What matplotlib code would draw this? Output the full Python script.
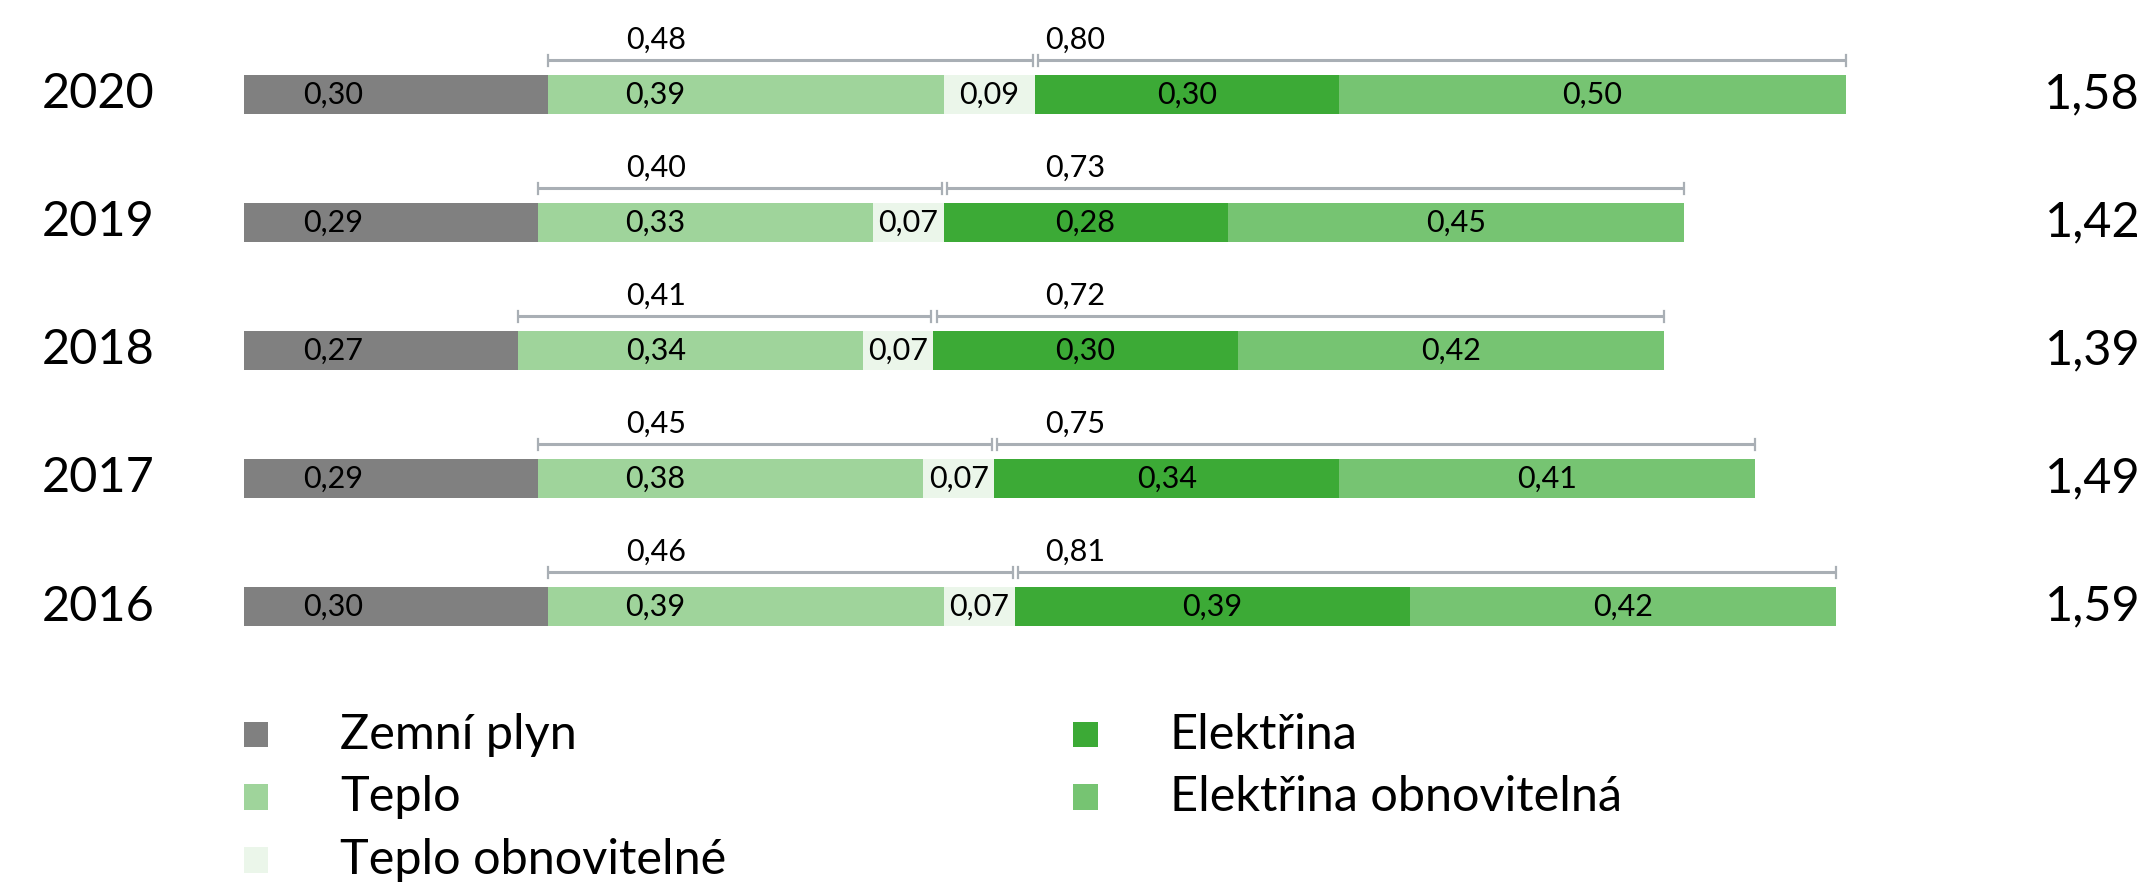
import matplotlib.pyplot as plt
from matplotlib.patches import Rectangle

plt.rcParams['font.family'] = ['Lato', 'DejaVu Sans']

years = ['2020', '2019', '2018', '2017', '2016']
series = ['Zemní plyn', 'Teplo', 'Teplo obnovitelné', 'Elektřina', 'Elektřina obnovitelná']
zemni_plyn = [0.30, 0.29, 0.27, 0.29, 0.30]
teplo = [0.39, 0.33, 0.34, 0.38, 0.39]
teplo_obn = [0.09, 0.07, 0.07, 0.07, 0.07]
elektrina = [0.30, 0.28, 0.30, 0.34, 0.39]
elektrina_obn = [0.50, 0.45, 0.42, 0.41, 0.42]
teplo_sum = [0.48, 0.40, 0.41, 0.45, 0.46]
elektrina_sum = [0.80, 0.73, 0.72, 0.75, 0.81]
totals = [1.58, 1.42, 1.39, 1.49, 1.59]

colors = ['#808080', '#9fd49b', '#ebf6ea', '#3caa36', '#76c472']
bracket_color = '#a9afb5'


def fmt(v):
    return ('%.2f' % v).replace('.', ',')


fig = plt.figure(figsize=(21.51, 8.83), dpi=100)
ax = fig.add_axes([0, 0, 1, 1])
ax.set_xlim(-0.2406, 1.8807)
ax.set_ylim(6.16, -0.738)
ax.axis('off')

bh = 0.305
lab_fs = 22
big_fs = 35
gray_lab_x = 0.088
teplo_lab_x = 0.406
el_lab_x = 0.82

data = [zemni_plyn, teplo, teplo_obn, elektrina, elektrina_obn]
for i, yr in enumerate(years):
    left = 0.0
    edges = []
    for k, vals in enumerate(data):
        v = vals[i]
        ax.barh(i, v, left=left, height=bh, color=colors[k], linewidth=0)
        if k == 0:
            tx = gray_lab_x
        elif k == 1:
            tx = teplo_lab_x
        else:
            tx = left + v / 2
        ax.text(tx, i, fmt(v), ha='center', va='center', fontsize=lab_fs)
        edges.append(left)
        left += v
    edges.append(left)

    # brackets above the heat part and the electricity part
    by = i - 0.267
    for x0, x1, val, lx in [(edges[1], edges[3] - 0.002, teplo_sum[i], teplo_lab_x),
                            (edges[3] + 0.003, edges[5], elektrina_sum[i], el_lab_x)]:
        ax.plot([x0, x1], [by, by], color=bracket_color, lw=2.2, solid_capstyle='butt')
        for xx in (x0, x1):
            ax.plot([xx, xx], [by - 0.043, by + 0.043], color=bracket_color, lw=1.6)
        ax.text(lx, i - 0.43, fmt(val), ha='center', va='center', fontsize=lab_fs)

    ax.text(-0.199, i, yr, ha='left', va='center', fontsize=big_fs)
    ax.text(1.870, i, fmt(totals[i]), ha='right', va='center', fontsize=big_fs)

# legend
leg_pos = [(0.0, 5.0), (0.0, 5.488), (0.0, 5.98), (0.818, 5.0), (0.818, 5.488)]
for k, name in enumerate(series):
    lx, ly = leg_pos[k]
    ax.add_patch(Rectangle((lx, ly - 0.1), 0.024, 0.2, color=colors[k], linewidth=0))
    ax.text(lx + 0.095, ly, name, ha='left', va='center', fontsize=big_fs)

fig.savefig('out.png', dpi=100)
